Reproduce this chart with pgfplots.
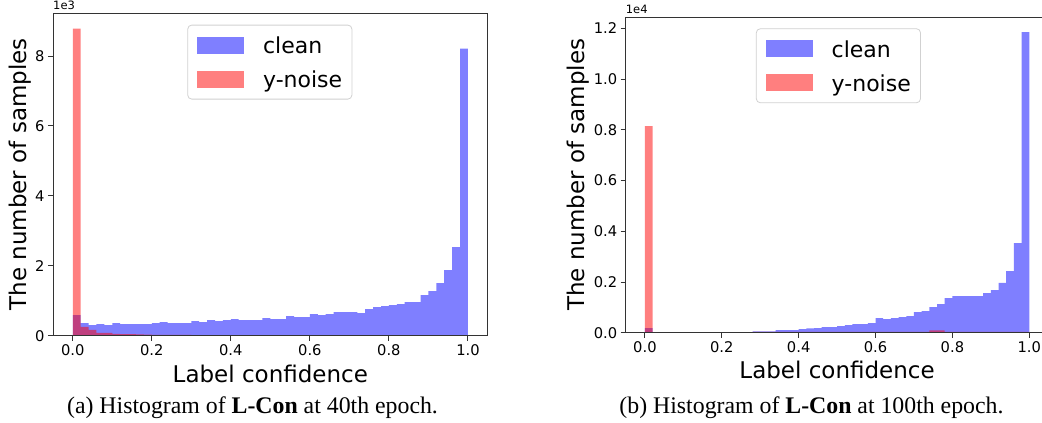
\documentclass[border=0pt]{standalone}
\usepackage{pgfplots}
\pgfplotsset{compat=1.18}
\usepackage{fontspec}
\setmainfont{DejaVu Sans}
\newfontfamily\capfont{Liberation Serif}

\pgfplotstableread{
x clean noise
0.00 590 8780
0.02 362 250
0.04 305 165
0.06 333 80
0.08 305 80
0.10 362 50
0.12 333 45
0.14 333 45
0.16 333 35
0.18 333 30
0.20 362 25
0.22 390 25
0.24 362 25
0.26 362 25
0.28 362 25
0.30 419 18
0.32 390 18
0.34 447 18
0.36 419 18
0.38 447 18
0.40 476 18
0.42 447 18
0.44 447 18
0.46 447 18
0.48 505 18
0.50 476 12
0.52 476 12
0.54 562 12
0.56 533 12
0.58 533 12
0.60 619 12
0.62 590 12
0.64 619 12
0.66 676 12
0.68 676 12
0.70 676 12
0.72 647 12
0.74 762 12
0.76 819 12
0.78 847 12
0.80 876 12
0.82 904 12
0.84 962 12
0.86 962 12
0.88 1161 12
0.90 1276 12
0.92 1504 12
0.94 1875 12
0.96 2532 12
0.98 8210 12
1.00 0 0
}\lefttable

\pgfplotstableread{
x clean noise
0.00 184 8150
0.02 20 15
0.04 20 15
0.06 20 15
0.08 20 15
0.10 20 15
0.12 20 15
0.14 20 15
0.16 20 15
0.18 20 15
0.20 20 15
0.22 20 15
0.24 20 15
0.26 20 15
0.28 53 30
0.30 53 30
0.32 53 30
0.34 105 30
0.36 105 30
0.38 105 30
0.40 145 30
0.42 171 30
0.44 184 30
0.46 224 30
0.48 224 30
0.50 263 30
0.52 302 30
0.54 342 30
0.56 342 30
0.58 381 30
0.60 579 30
0.62 539 30
0.64 579 30
0.66 618 30
0.68 658 30
0.70 815 30
0.72 855 30
0.74 1013 90
0.76 1131 90
0.78 1368 30
0.80 1447 30
0.82 1447 30
0.84 1447 30
0.86 1447 30
0.88 1565 30
0.90 1683 30
0.92 1960 30
0.94 2433 30
0.96 3537 30
0.98 11850 30
1.00 0 0
}\righttable

\pgfplotsset{
  histo/.style={
    scale only axis,
    axis on top,
    axis line style={black!80, line width=0.9pt},
    tick align=outside, tick pos=left,
    major tick length=5pt,
    every tick/.style={black!80, line width=0.9pt},
    xmin=-0.05, xmax=1.05, ymin=0,
    xtick={0,0.2,0.4,0.6,0.8,1.0},
    /pgf/number format/assume math mode=true,
    ticklabel style={font=\fontsize{14.7}{17}\selectfont},
    xticklabel style={/pgf/number format/fixed, /pgf/number format/fixed zerofill, /pgf/number format/precision=1},
    xlabel={Label confidence},
    ylabel={The number of samples},
    label style={font=\fontsize{23}{27}\selectfont, inner sep=0pt},
    every y tick scale label/.style={at={(axis description cs:0,1)}, anchor=south west, inner sep=0pt, yshift=3pt, font=\fontsize{11.5}{13}\selectfont},
    legend cell align=left,
    legend style={anchor=north west, draw=black!18, line width=0.8pt, rounded corners=4pt, fill=white,
      font=\fontsize{22}{26}\selectfont, inner xsep=9.7pt, inner ysep=11.5pt,
      row sep=17pt,
      nodes={inner sep=0pt, text height=16.7pt, text depth=0pt},
      /tikz/every odd column/.append style={column sep=18.7pt}},
  },
  cleanbar/.style={ybar interval, fill=blue, fill opacity=0.5, draw=none,
    legend image code/.code={\fill[sharp corners, blue, fill opacity=0.5] (0pt,-8.5pt) rectangle (47pt,8.5pt);}},
  noisebar/.style={ybar interval, fill=red, fill opacity=0.5, draw=none,
    legend image code/.code={\fill[sharp corners, red, fill opacity=0.5] (0pt,-8.5pt) rectangle (47pt,8.5pt);}},
}

\begin{document}
\begin{tikzpicture}
\begin{axis}[histo,
  at={(53pt,87.3pt)}, anchor=south west,
  width=434.7pt, height=322.7pt,
  ymax=9230,
  ytick={0,2000,4000,6000,8000},
  scaled y ticks=base 10:-3,
  ytick scale label code/.code={1e3},
  ylabel style={at={(axis description cs:-0.0605,0.5)}, anchor=base},
  xlabel style={at={(axis description cs:0.5,-0.1456)}, anchor=base},
  legend style={at={(axis description cs:0.309,0.9637)}},
]
\addplot[cleanbar] table[x=x, y=clean] {\lefttable};
\addlegendentry{clean}
\addplot[noisebar] table[x=x, y=noise] {\lefttable};
\addlegendentry{y-noise}
\end{axis}
\begin{axis}[histo,
  at={(625.7pt,90.3pt)}, anchor=south west,
  width=422.8pt, height=315.7pt,
  axis line style={draw=none},
  extra description/.code={\draw[black!80, line width=0.9pt] (1.2,1) -- (0,1) -- (0,0) -- (1.2,0);},
  ymax=12450,
  ytick={0,2000,4000,6000,8000,10000,12000},
  scaled y ticks=base 10:-4,
  ytick scale label code/.code={1e4},
  yticklabel style={/pgf/number format/fixed, /pgf/number format/fixed zerofill, /pgf/number format/precision=1},
  ylabel style={at={(axis description cs:-0.0986,0.5)}, anchor=base},
  xlabel style={at={(axis description cs:0.5,-0.1444)}, anchor=base},
  legend style={at={(axis description cs:0.308,0.964)}},
]
\addplot[cleanbar] table[x=x, y=clean] {\righttable};
\addlegendentry{clean}
\addplot[noisebar] table[x=x, y=noise] {\righttable};
\addlegendentry{y-noise}
\end{axis}
\node[anchor=base, font=\capfont\fontsize{23.8}{28}\selectfont, inner sep=0pt] at (252.5pt,9.7pt) {(a) Histogram of \textbf{L-Con} at 40th epoch.};
\node[anchor=base, font=\capfont\fontsize{23.8}{28}\selectfont, inner sep=0pt] at (811.5pt,9.7pt) {(b) Histogram of \textbf{L-Con} at 100th epoch.};
\pgfresetboundingbox
\useasboundingbox (0pt,0pt) rectangle (1042pt,423pt);
\end{tikzpicture}
\end{document}
